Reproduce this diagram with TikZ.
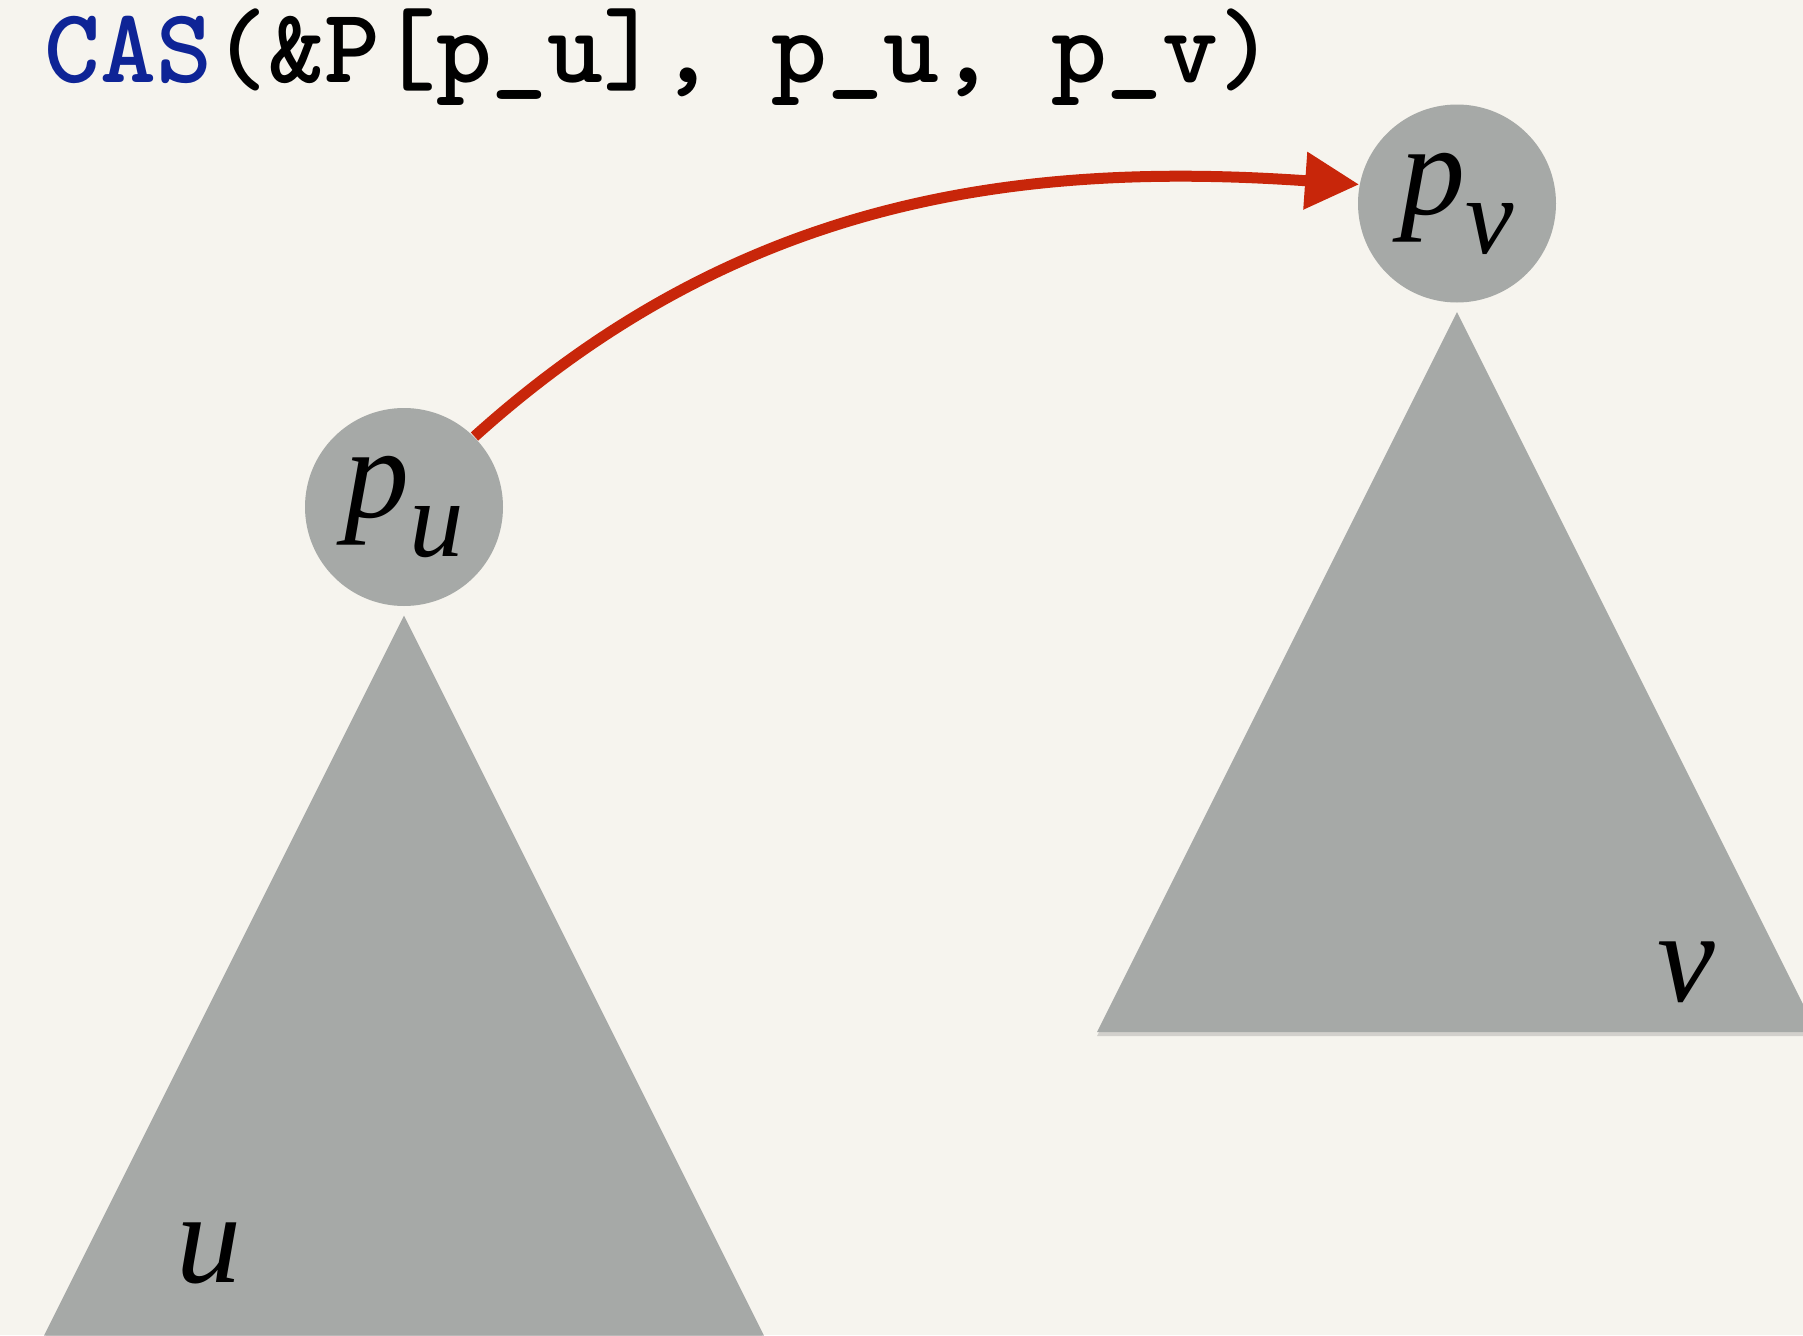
\documentclass[tikz,border=0pt]{standalone}
\usepackage{fontspec}
\setmainfont{Liberation Serif}
\usepackage{xcolor}
\usetikzlibrary{arrows.meta, positioning, calc, shadows}

\definecolor{paper}{RGB}{246,244,238}
\definecolor{treegray}{RGB}{166,169,167}
\definecolor{casred}{RGB}{200,38,10}
\definecolor{casblue}{RGB}{14,36,150}

\begin{document}
\begin{tikzpicture}[
    ball/.style={circle, fill=treegray, minimum size=1.98cm, inner sep=0pt,
      font=\fontsize{37}{40}\selectfont},
    tree/.style={fill=treegray, drop shadow={shadow xshift=0pt,
      shadow yshift=-0.04cm, opacity=0.3}},
    lbl/.style={font=\fontsize{37}{40}\selectfont\itshape},
    ptr/.style={line width=0.11cm, draw=casred,
      -{Triangle[length=0.54cm,width=0.55cm]}}
]
\fill[paper] (0,0) rectangle (18.03,13.35);
\useasboundingbox (0,0) rectangle (18.03,13.35);
\clip (0,0) rectangle (18.03,13.35);

% the call
\node[anchor=base west, inner sep=0pt, font=\fontsize{30.3}{32}\selectfont\ttfamily\bfseries]
  (call) at (0.44,12.53) {\textcolor{casblue}{CAS}(\&P[p\_u], p\_u, p\_v)};

% the two nodes
\node[ball] (pu) at (4.04,8.28) {\textit{p}\raisebox{-0.3em}{\fontsize{31}{33}\selectfont\textit{u}}};
\node[ball] (pv) at (14.57,11.315) {\textit{p}\raisebox{-0.3em}{\fontsize{31}{33}\selectfont\textit{v}}};

% subtrees below them
\coordinate (ua) at ($(pu.south)+(0,-0.09)$);
\coordinate (va) at ($(pv.south)+(0,-0.09)$);
\path[tree] (ua) -- ++(-3.6,-7.2) -- ++(7.2,0) -- cycle;
\path[tree] (va) -- ++(-3.6,-7.2) -- ++(7.2,0) -- cycle;
\node[lbl] (u) at (2.09,0.82) {u};
\node[lbl] (v) at (16.86,3.63) {v};

% the swap
\draw[ptr] (pu.45) .. controls +(42:3.5) and +(176:3.5) .. (pv.169);
\end{tikzpicture}
\end{document}
